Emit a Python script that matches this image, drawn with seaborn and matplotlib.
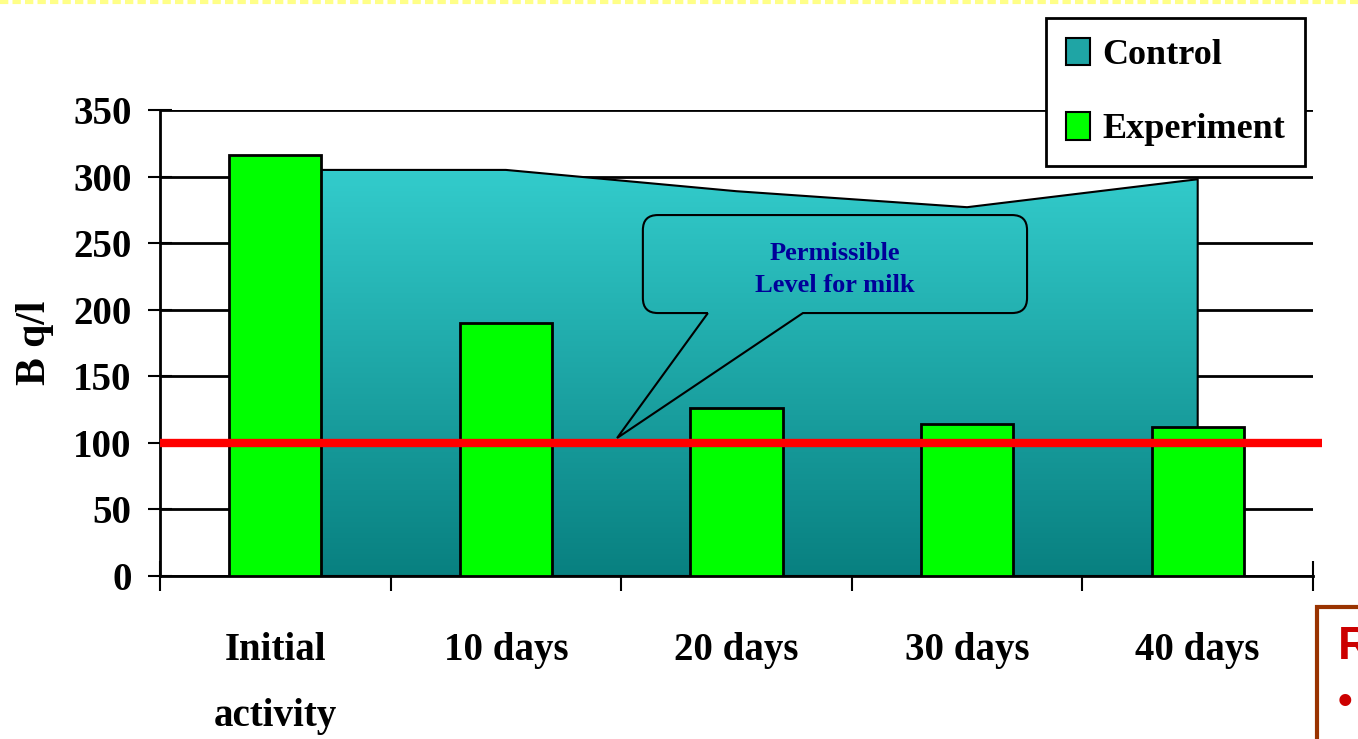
import numpy as np
import matplotlib.pyplot as plt
import seaborn as sns
from matplotlib.path import Path
from matplotlib.patches import PathPatch, Patch, Rectangle
from matplotlib.lines import Line2D
from matplotlib.colors import LinearSegmentedColormap

# data
categories = ['Initial\nactivity', '10 days', '20 days', '30 days', '40 days']
control = [305, 305, 289, 277, 298]
experiment = [316, 190, 126, 114, 112]
permissible = 100
yticks = [0, 50, 100, 150, 200, 250, 300, 350]

sns.set_style('white')
plt.rcParams['font.family'] = ['Liberation Serif', 'DejaVu Serif']
plt.rcParams['font.weight'] = 'bold'
for k in ['text.color', 'axes.labelcolor', 'xtick.color', 'ytick.color']:
    plt.rcParams[k] = 'black'

W, H = 1358, 739
fig = plt.figure(figsize=(W / 100, H / 100), dpi=100)
ax = fig.add_axes([160 / W, 1 - 576 / H, 1153 / W, 466 / H])

x = np.arange(len(categories))

# grid behind everything
ax.set_axisbelow(True)
ax.yaxis.grid(True, color='black', lw=2)

# Control: area with vertical gradient
area = ax.fill_between(x, control, 0, facecolor='none', edgecolor='black',
                       lw=1.5, zorder=1.5)
teal = LinearSegmentedColormap.from_list('teal', ['#088080', '#33CCCC'])
grad = np.linspace(0, 1, 256).reshape(-1, 1)
im = ax.imshow(grad, cmap=teal, aspect='auto', origin='lower',
               extent=[x[0], x[-1], 0, max(control)], zorder=1)
im.set_clip_path(area.get_paths()[0], transform=ax.transData)

# Experiment: bars
sns.barplot(x=categories, y=experiment, color='#00FF00', saturation=1,
            edgecolor='black', linewidth=2, width=0.4, ax=ax, zorder=3)

# permissible level
ax.axhline(permissible, xmin=0, xmax=1.008, color='#FF0000', lw=6,
           solid_capstyle='butt', clip_on=False, zorder=4)

ax.set_xlim(-0.5, len(categories) - 0.5)
ax.set_ylim(0, 350)
ax.set_yticks(yticks)

ax.set_xticks(np.arange(-0.5, len(categories), 1))
ax.set_xticklabels([])
ax.set_xticks(x, minor=True)
ax.set_xticklabels(categories, minor=True, linespacing=2.05, fontsize=28,
                   fontweight='bold')
ax.tick_params(axis='x', which='major', direction='inout', length=21,
               width=1.5, color='black', bottom=True)
ax.tick_params(axis='x', which='minor', length=0, pad=40, bottom=True)
ax.tick_params(axis='y', direction='inout', length=17, width=1.5,
               color='black', labelsize=28, pad=12, left=True)
ax.set_xlabel('')
ax.set_ylabel('B q/l', fontsize=30, fontweight='bold', labelpad=14)

for s in ['top', 'right']:
    ax.spines[s].set_visible(False)
for s in ['left', 'bottom']:
    ax.spines[s].set_color('black')
    ax.spines[s].set_linewidth(2)

# callout
x0, x1 = 1.594, 3.260
y0, y1 = 197.5, 271.1
rx, ry = 0.065, 11.3
tl, tr = 1.876, 2.288
tip = (1.482, 103.6)
verts = [(tl, y0), tip, (tr, y0),
         (x1 - rx, y0), (x1, y0), (x1, y0 + ry),
         (x1, y1 - ry), (x1, y1), (x1 - rx, y1),
         (x0 + rx, y1), (x0, y1), (x0, y1 - ry),
         (x0, y0 + ry), (x0, y0), (x0 + rx, y0),
         (tl, y0)]
codes = [Path.MOVETO, Path.LINETO, Path.LINETO,
         Path.LINETO, Path.CURVE3, Path.CURVE3,
         Path.LINETO, Path.CURVE3, Path.CURVE3,
         Path.LINETO, Path.CURVE3, Path.CURVE3,
         Path.LINETO, Path.CURVE3, Path.CURVE3,
         Path.LINETO]
ax.add_patch(PathPatch(Path(verts, codes), facecolor='none',
                       edgecolor='black', lw=1.5, zorder=2))
ax.text((x0 + x1) / 2, (y0 + y1) / 2 - 4, 'Permissible\nLevel for milk',
        ha='center', va='center', fontsize=19, fontweight='bold',
        color='#000099', linespacing=1.5, zorder=5)

# legend
handles = [Patch(facecolor='#1FA5A5', edgecolor='black', lw=1.5),
           Patch(facecolor='#00FF00', edgecolor='black', lw=1.5)]
leg = fig.legend(handles, ['Control', 'Experiment'], loc='upper right',
                 bbox_to_anchor=(1305 / W, 1 - 18 / H), frameon=True,
                 fancybox=False, edgecolor='black', framealpha=1,
                 prop={'size': 26, 'weight': 'bold'}, handlelength=0.65,
                 handleheight=0.8, handletextpad=0.35, labelspacing=1.1,
                 borderpad=0.55, borderaxespad=0)
leg.get_frame().set_linewidth(2)

# slide leftovers
fig.add_artist(Line2D([0, 1], [1 - 2 / H, 1 - 2 / H], transform=fig.transFigure,
                      color='#FFFF88', lw=3, ls=(0, (2, 1))))
fig.add_artist(Rectangle((1317 / W, -0.05), 0.1, 0.05 + (H - 607) / H,
                         transform=fig.transFigure, facecolor='white',
                         edgecolor='#993300', lw=3, clip_on=False))
fig.text(1338 / W, 1 - 647 / H, 'R', color='#CC0000', fontsize=33,
         fontweight='bold', family='Liberation Sans', va='center')
fig.text(1338 / W, 1 - 703 / H, '\u2022', color='#CC0000', fontsize=30,
         fontweight='bold', family='Liberation Sans', va='center')

fig.savefig('out.png', dpi=100)
